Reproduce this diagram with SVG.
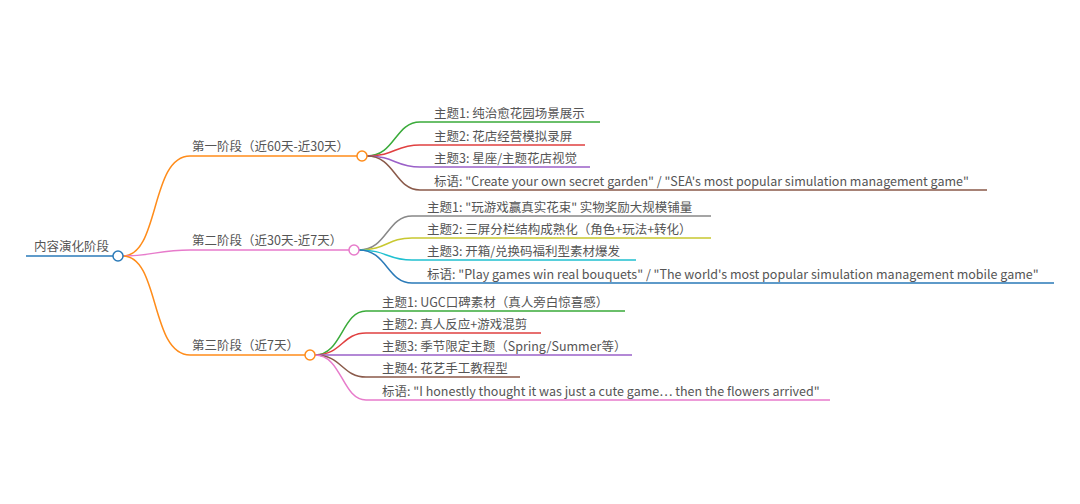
<svg xmlns="http://www.w3.org/2000/svg" width="1080" height="504" viewBox="0 0 1080 504">
<style>
text{font-family:"Noto Sans CJK SC","Noto Sans",sans-serif;font-size:12.5px;fill:#555}
path{fill:none;stroke-width:1.5}
circle{fill:#fff;stroke-width:1.5}
</style>
<rect width="1080" height="504" fill="#fff"/>
<g id="connectors">
<path d="M26 256H113" stroke="#2a7ab8" stroke-width="2.5"/>
<path d="M123 256C160 256 150 156 190 156H357" stroke="#ff8c1a"/>
<path d="M123 256C150 256 160 250 190 250H349" stroke="#e77bcb"/>
<path d="M123 256C160 256 150 355 190 355H305" stroke="#ff8c1a"/>
<path d="M367 156C395 156 395 122 420 122H600" stroke="#3aab3a"/>
<path d="M367 156C395 156 395 145 420 145H585" stroke="#e04040"/>
<path d="M367 156C395 156 395 167 420 167H590" stroke="#9a60c8"/>
<path d="M367 156C395 156 395 190 420 190H987" stroke="#8a5a4a"/>
<path d="M359 250C387 250 387 216 412 216H711" stroke="#888"/>
<path d="M359 250C387 250 387 238 412 238H711" stroke="#c8c830"/>
<path d="M359 250C387 250 387 260 412 260H636" stroke="#20c0d0"/>
<path d="M359 250C387 250 387 283 412 283H1054" stroke="#2a7ab8"/>
<path d="M315 355C342 355 342 311 366 311H625" stroke="#3aab3a"/>
<path d="M315 355C342 355 342 333 366 333H541" stroke="#e04040"/>
<path d="M315 355H632" stroke="#9a60c8"/>
<path d="M315 355C342 355 342 377 366 377H520" stroke="#8a5a4a"/>
<path d="M315 355C342 355 342 400 366 400H830" stroke="#e77bcb"/>
</g>
<g id="root"><text x="34" y="251">内容演化阶段</text><circle cx="118" cy="256" r="5" stroke="#2a7ab8"/></g>
<g id="s1"><text x="192" y="151">第一阶段（近60天-近30天）</text><circle cx="362" cy="156" r="5" stroke="#ff8c1a"/></g>
<g id="s2"><text x="192" y="245">第二阶段（近30天-近7天）</text><circle cx="354" cy="250" r="5" stroke="#e77bcb"/></g>
<g id="s3"><text x="192" y="350">第三阶段（近7天）</text><circle cx="310" cy="355" r="5" stroke="#ff8c1a"/></g>
<g id="l1a"><text x="434" y="118">主题1: 纯治愈花园场景展示</text></g>
<g id="l1b"><text x="434" y="141">主题2: 花店经营模拟录屏</text></g>
<g id="l1c"><text x="434" y="163">主题3: 星座/主题花店视觉</text></g>
<g id="l1d"><text x="434" y="186">标语: "Create your own secret garden" / "SEA's most popular simulation management game"</text></g>
<g id="l2a"><text x="427" y="212">主题1: "玩游戏赢真实花束" 实物奖励大规模铺量</text></g>
<g id="l2b"><text x="427" y="234">主题2: 三屏分栏结构成熟化（角色+玩法+转化）</text></g>
<g id="l2c"><text x="427" y="256">主题3: 开箱/兑换码福利型素材爆发</text></g>
<g id="l2d"><text x="427" y="279">标语: "Play games win real bouquets" / "The world's most popular simulation management mobile game"</text></g>
<g id="l3a"><text x="382" y="307">主题1: UGC口碑素材（真人旁白惊喜感）</text></g>
<g id="l3b"><text x="382" y="329">主题2: 真人反应+游戏混剪</text></g>
<g id="l3c"><text x="382" y="351">主题3: 季节限定主题（Spring/Summer等）</text></g>
<g id="l3d"><text x="382" y="373">主题4: 花艺手工教程型</text></g>
<g id="l3e"><text x="382" y="396">标语: "I honestly thought it was just a cute game… then the flowers arrived"</text></g>
</svg>
